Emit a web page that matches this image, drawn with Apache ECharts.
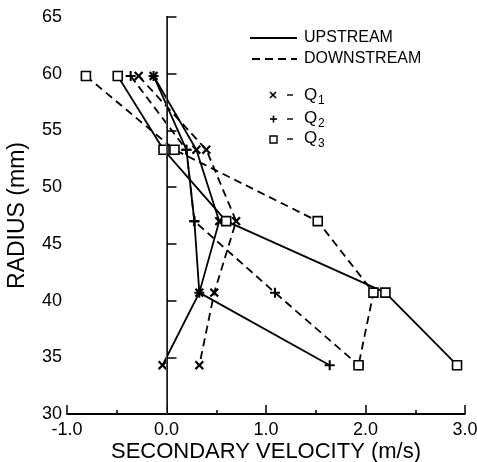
<!DOCTYPE html>
<html>
  <head>
    <meta charset="utf-8" />
    <title>Secondary velocity</title>
    <script src="https://cdn.jsdelivr.net/npm/echarts@6.0.0/dist/echarts.min.js"></script>
  </head>
  <body style="margin:0">
    <div id="main" style="width: 477px;height:462px;"></div>

    <script type="text/javascript">
      // radius levels (mm) and secondary velocity (m/s)
      var radius = [59.8, 53.3, 47.0, 40.7, 34.3];
      var q1Up = [-0.13, 0.30, 0.53, 0.33, -0.04];
      var q2Up = [-0.13, 0.20, 0.28, 0.33, 1.64];
      var q3Up = [-0.49, -0.03, 0.60, 2.20, 2.92];
      var q1Down = [-0.28, 0.40, 0.70, 0.48, 0.33];
      var q2Down = [-0.36, 0.20, 0.28, 1.09, 1.93];
      var q3Down = [-0.81, 0.08, 1.52, 2.08, 1.93];

      var FONT = '"Liberation Sans", Arial, sans-serif';
      var PLUS = 'path://M4,0H6V4H10V6H6V10H4V6H0V4H4Z';
      var DASH = [8, 5];

      function pairs(xs) {
        var out = [];
        for (var i = 0; i < xs.length; i++) out.push([xs[i], radius[i]]);
        return out;
      }

      function mk(name, xs, marker, dashed) {
        var s = {
          name: name,
          type: 'line',
          data: pairs(xs),
          lineStyle: { color: '#000', width: 1.8, type: dashed ? DASH : 'solid' },
          z: 3
        };
        if (marker === 'sq') {
          s.symbol = 'rect';
          s.symbolSize = 9;
          s.itemStyle = { color: '#fff', borderColor: '#000', borderWidth: 1.6 };
          s.z = 4;
        } else if (marker === 'x') {
          s.symbol = PLUS;
          s.symbolRotate = 45;
          s.symbolSize = 11;
          s.itemStyle = { color: '#000', borderWidth: 0 };
        } else {
          s.symbol = PLUS;
          s.symbolSize = 10;
          s.itemStyle = { color: '#000', borderWidth: 0 };
        }
        return s;
      }

      var chart = echarts.init(document.getElementById('main'));

      var series = [
        mk('Q1 up', q1Up, 'x', false),
        mk('Q2 up', q2Up, '+', false),
        mk('Q3 up', q3Up, 'sq', false),
        mk('Q1 down', q1Down, 'x', true),
        mk('Q2 down', q2Down, '+', true),
        mk('Q3 down', q3Down, 'sq', true)
      ];
      // zero line
      series[0].markLine = {
        silent: true,
        symbol: 'none',
        label: { show: false },
        lineStyle: { color: '#555', width: 1, type: 'solid' },
        data: [{ xAxis: 0 }]
      };

      var lx = 250;
      var option = {
        animation: false,
        backgroundColor: '#fff',
        textStyle: { fontFamily: FONT },
        grid: { left: 67, right: 12, top: 17, bottom: 48, outerBoundsMode: 'none', containLabel: false },
        xAxis: {
          type: 'value',
          min: -1, max: 3, interval: 1,
          name: 'SECONDARY VELOCITY (m/s)',
          nameLocation: 'middle',
          nameMoveOverlap: false,
          nameGap: 27,
          nameTextStyle: { fontSize: 22, color: '#000', fontFamily: FONT },
          axisLine: { lineStyle: { color: '#000', width: 1.8 } },
          axisTick: { inside: true, length: 9, lineStyle: { color: '#000', width: 1.5 } },
          minorTick: { show: true, splitNumber: 2, length: 4, lineStyle: { color: '#000', width: 1.5 } },
          splitLine: { show: false },
          axisLabel: {
            color: '#000', fontSize: 18, margin: 7, fontFamily: FONT,
            formatter: function (v) { return v.toFixed(1); }
          }
        },
        yAxis: {
          type: 'value',
          min: 30, max: 65, interval: 5,
          name: 'RADIUS (mm)',
          nameLocation: 'middle',
          nameMoveOverlap: false,
          nameGap: 38,
          nameTextStyle: { fontSize: 23, color: '#000', fontFamily: FONT },
          axisLine: { show: true, lineStyle: { color: '#000', width: 1.8 } },
          axisTick: { show: true, inside: true, length: 10, lineStyle: { color: '#000', width: 1.5 } },
          splitLine: { show: false },
          axisLabel: { color: '#000', fontSize: 18, margin: 5, fontFamily: FONT }
        },
        graphic: [
          { type: 'line', shape: { x1: lx, y1: 38, x2: lx + 47, y2: 38 }, style: { stroke: '#000', lineWidth: 1.8 } },
          { type: 'line', shape: { x1: lx + 2, y1: 59, x2: lx + 47, y2: 59 }, style: { stroke: '#000', lineWidth: 1.8, lineDash: DASH } },
          { type: 'text', x: 304, y: 38, style: { text: 'UPSTREAM', fill: '#000', font: '16px ' + FONT, verticalAlign: 'middle' } },
          { type: 'text', x: 304, y: 59, style: { text: 'DOWNSTREAM', fill: '#000', font: '16px ' + FONT, verticalAlign: 'middle' } },
          // x marker
          { type: 'line', shape: { x1: 270, y1: 92, x2: 276, y2: 98 }, style: { stroke: '#000', lineWidth: 1.6 } },
          { type: 'line', shape: { x1: 276, y1: 92, x2: 270, y2: 98 }, style: { stroke: '#000', lineWidth: 1.6 } },
          // + marker
          { type: 'line', shape: { x1: 270, y1: 119, x2: 277, y2: 119 }, style: { stroke: '#000', lineWidth: 1.6 } },
          { type: 'line', shape: { x1: 273.5, y1: 115.5, x2: 273.5, y2: 122.5 }, style: { stroke: '#000', lineWidth: 1.6 } },
          // square marker
          { type: 'rect', shape: { x: 270, y: 136, width: 7, height: 7 }, style: { stroke: '#000', fill: '#fff', lineWidth: 1.4 } },
          { type: 'line', shape: { x1: 287, y1: 95, x2: 293, y2: 95 }, style: { stroke: '#000', lineWidth: 1.4 } },
          { type: 'line', shape: { x1: 287, y1: 119, x2: 293, y2: 119 }, style: { stroke: '#000', lineWidth: 1.4 } },
          { type: 'line', shape: { x1: 287, y1: 139, x2: 293, y2: 139 }, style: { stroke: '#000', lineWidth: 1.4 } },
          { type: 'text', x: 304, y: 95, style: { text: 'Q', font: '17px ' + FONT, fill: '#000', verticalAlign: 'middle' } },
          { type: 'text', x: 318, y: 101, style: { text: '1', font: '12px ' + FONT, fill: '#000', verticalAlign: 'middle' } },
          { type: 'text', x: 304, y: 118, style: { text: 'Q', font: '17px ' + FONT, fill: '#000', verticalAlign: 'middle' } },
          { type: 'text', x: 318, y: 124, style: { text: '2', font: '12px ' + FONT, fill: '#000', verticalAlign: 'middle' } },
          { type: 'text', x: 304, y: 138, style: { text: 'Q', font: '17px ' + FONT, fill: '#000', verticalAlign: 'middle' } },
          { type: 'text', x: 318, y: 144, style: { text: '3', font: '12px ' + FONT, fill: '#000', verticalAlign: 'middle' } }
        ],
        series: series
      };

      chart.setOption(option);
    </script>
  </body>
</html>
